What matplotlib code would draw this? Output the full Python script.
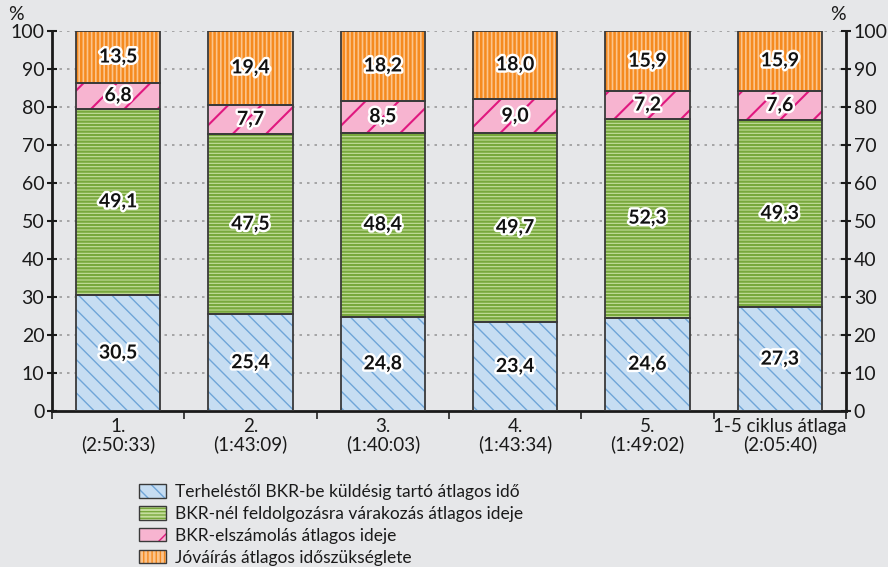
import matplotlib
matplotlib.use("Agg")
import matplotlib.pyplot as plt
import matplotlib.patheffects as pe
from matplotlib.patches import Patch
import numpy as np

plt.rcParams['font.family'] = ['Lato', 'DejaVu Sans']

categories = ["1.\n(2:50:33)", "2.\n(1:43:09)", "3.\n(1:40:03)", "4.\n(1:43:34)",
              "5.\n(1:49:02)", "1-5 ciklus átlaga\n(2:05:40)"]
terheles = [30.5, 25.4, 24.8, 23.4, 24.6, 27.3]
varakozas = [49.1, 47.5, 48.4, 49.7, 52.3, 49.3]
elszamolas = [6.8, 7.7, 8.5, 9.0, 7.2, 7.6]
jovairas = [13.5, 19.4, 18.2, 18.0, 15.9, 15.9]
series = [terheles, varakozas, elszamolas, jovairas]
names = ["Terheléstől BKR-be küldésig tartó átlagos idő",
         "BKR-nél feldolgozásra várakozás átlagos ideje",
         "BKR-elszámolás átlagos ideje",
         "Jóváírás átlagos időszükséglete"]
faces = ["#C6DDF2", "#C5DE9E", "#F7B4D0", "#FBC48C"]
hatchcols = ["#6FA5D8", "#78A83C", "#E0187F", "#F58A1F"]
hatches = ["\\\\", "-----", "/", "||||"]
hlw = [1.0, 1.6, 1.5, 1.8]

bg = "#E6E7E9"
fig = plt.figure(figsize=(8.88, 5.67), dpi=100, facecolor=bg)
ax = fig.add_axes([52/888, 1-411/567, 794/888, 380/567])
ax.set_facecolor(bg)

x = np.arange(len(categories))
w = 0.635
bottom = np.zeros(len(categories))
for i, s in enumerate(series):
    with plt.rc_context({'hatch.linewidth': hlw[i]}):
        ax.bar(x, s, w, bottom=bottom, color=faces[i], edgecolor=hatchcols[i],
               hatch=hatches[i], linewidth=0, zorder=2)
    ax.bar(x, s, w, bottom=bottom, facecolor='none', edgecolor='#3a3a3a',
           linewidth=1.3, zorder=3)
    for xi, v, b in zip(x, s, bottom):
        ax.text(xi, b + v/2, f"{v:.1f}".replace('.', ','), ha='center', va='center',
                fontsize=14, fontweight='bold', color='#111111', zorder=4,
                path_effects=[pe.withStroke(linewidth=3.5, foreground='white')])
    bottom += np.array(s)

ax.set_xlim(-0.5, len(categories) - 0.5)
ax.set_ylim(0, 100)
ax.set_yticks(range(0, 101, 10))
for yv in range(10, 101, 10):
    ax.axhline(yv, color='#9a9a9a', linestyle=(0, (1.5, 3)), linewidth=1.2, zorder=1)

ax.set_xticks(x)
ax.set_xticklabels(categories, fontsize=13.5, color='#1a1a1a', linespacing=1.05)
ax.tick_params(axis='x', length=0, pad=5)
ax.set_xticks(np.arange(-0.5, len(categories) + 0.5, 1), minor=True)
ax.tick_params(axis='x', which='minor', length=6, width=1.2, direction='out', color='#222222')

ax.tick_params(axis='y', labelsize=14, length=7, width=1.5, direction='inout',
               colors='#1a1a1a', left=True, right=True, labelleft=True, labelright=True,
               pad=2)
for side in ['left', 'right', 'bottom']:
    ax.spines[side].set_linewidth(2)
    ax.spines[side].set_color('#1a1a1a')
ax.spines['top'].set_visible(False)

fig.text(16/888, 1-14/567, "%", fontsize=14, ha='center', va='center', color='#1a1a1a')
fig.text(838/888, 1-14/567, "%", fontsize=14, ha='center', va='center', color='#1a1a1a')

handles = []
for i in range(4):
    with plt.rc_context({'hatch.linewidth': hlw[i]}):
        h1 = Patch(facecolor=faces[i], edgecolor=hatchcols[i], hatch=hatches[i], linewidth=0)
    h2 = Patch(facecolor='none', edgecolor='#3a3a3a', linewidth=1.0)
    handles.append((h1, h2))
fig.legend(handles, names, loc='upper left', bbox_to_anchor=(139/888, 1-484/567),
           frameon=False, fontsize=12.5, labelcolor='#1a1a1a', handlelength=1.55,
           handleheight=0.8, handletextpad=0.5, labelspacing=0.34, borderpad=0,
           borderaxespad=0)

fig.savefig("out.png", dpi=100, facecolor=bg)
